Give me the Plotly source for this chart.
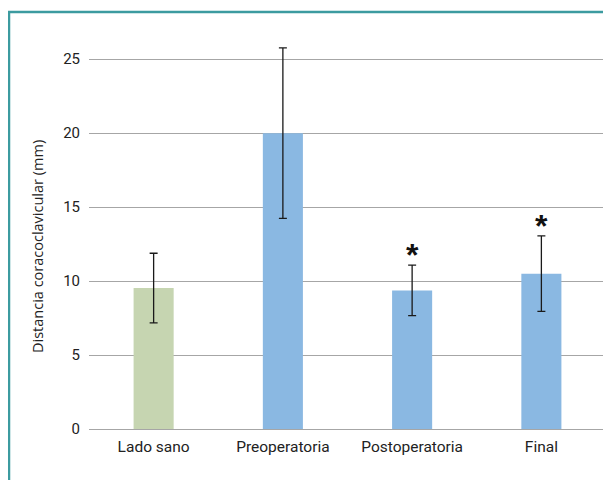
import plotly.graph_objects as go

categories = ["Lado sano", "Preoperatoria", "Postoperatoria", "Final"]
means = [9.53, 20.0, 9.37, 10.5]
errors = [2.35, 5.76, 1.71, 2.55]
colors = ["#c6d5b1", "#8ab8e2", "#8ab8e2", "#8ab8e2"]
significant = [False, False, True, True]
y_ticks = [0, 5, 10, 15, 20, 25]
y_title = "Distancia coracoclavicular (mm)"

fig = go.Figure()
fig.add_trace(go.Bar(
    x=categories, y=means,
    marker=dict(color=colors, line=dict(width=0)),
    width=0.31,
    error_y=dict(type="data", array=errors, visible=True, color="#1a1a1a",
                 thickness=1.3, width=4),
    showlegend=False,
))

for c, m, e, s in zip(categories, means, errors, significant):
    if s:
        fig.add_annotation(x=c, y=m + e, text="<b>*</b>", showarrow=False,
                           yanchor="bottom", yshift=-10,
                           font=dict(size=32, color="#111111", family="Liberation Sans"))

W, H = 603, 472
L, R, T, B = 81, 5, 29, 51
pw, ph = W - L - R, H - T - B
fig.add_shape(type="line", xref="paper", yref="paper",
              x0=(0 - L) / pw, x1=(W - L) / pw,
              y0=(H - B - 4) / ph, y1=(H - B - 4) / ph,
              line=dict(color="#3c9ba0", width=2.5))
fig.add_shape(type="line", xref="paper", yref="paper",
              x0=(1 - L) / pw, x1=(1 - L) / pw,
              y0=(H - B - 3) / ph, y1=-B / ph,
              line=dict(color="#3c9ba0", width=2.5))

fig.add_annotation(xref="paper", yref="paper",
                   x=(29 - L) / pw, y=(H - B - 239) / ph,
                   text=y_title, textangle=-90, showarrow=False,
                   xanchor="center", yanchor="middle",
                   font=dict(size=14.5, family="Open Sans", color="#222222"))

fig.update_layout(
    width=W, height=H,
    margin=dict(l=L, r=R, t=T, b=B),
    paper_bgcolor="white", plot_bgcolor="white",
    bargap=0.69,
    font=dict(family="Roboto", size=15, color="#222222"),
    xaxis=dict(showgrid=False, showline=False, ticks="",
               tickfont=dict(size=15.5, family="Roboto"), ticklabelstandoff=6),
    yaxis=dict(range=[0, 26.5], tickvals=y_ticks, showgrid=True,
               gridcolor="#a6a6a6", gridwidth=1, zeroline=True,
               zerolinecolor="#a6a6a6", zerolinewidth=1.3,
               ticks="", ticklabelstandoff=8,
               tickfont=dict(size=15, family="Roboto")),
)

fig.write_html("out.html")
